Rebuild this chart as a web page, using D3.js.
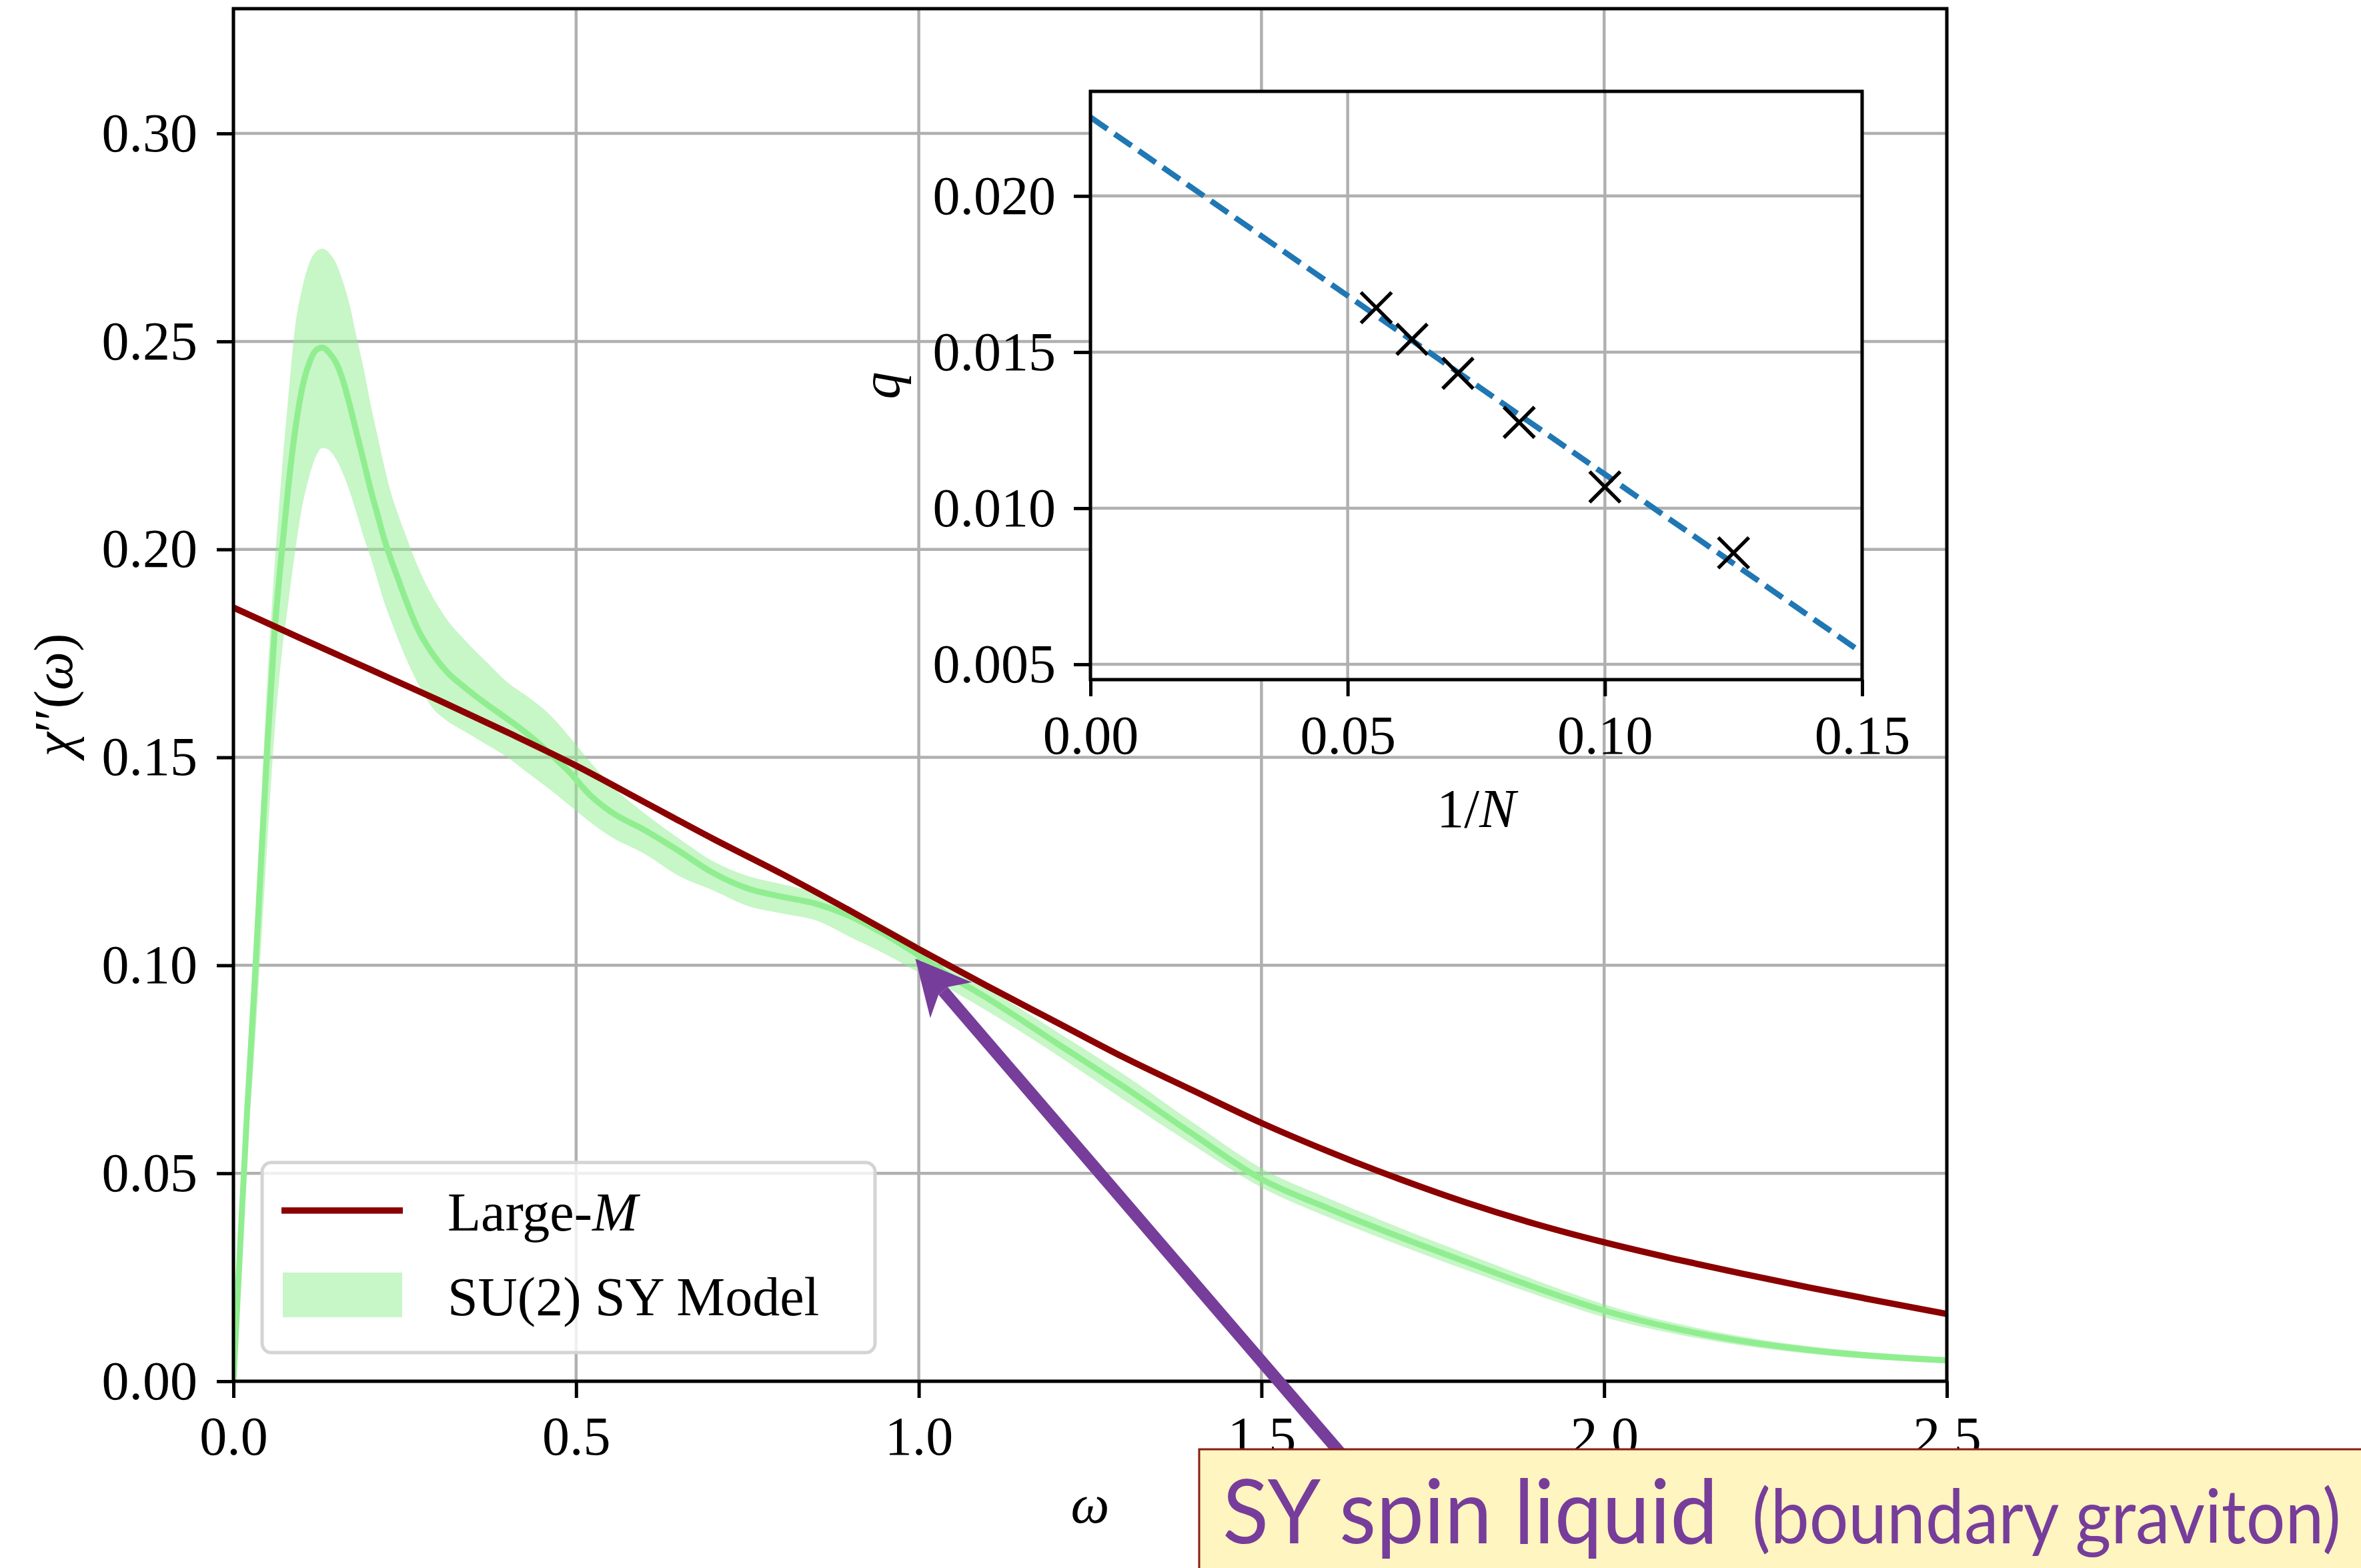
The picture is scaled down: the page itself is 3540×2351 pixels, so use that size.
<!DOCTYPE html>
<html><head><meta charset="utf-8">
<script src="https://cdn.jsdelivr.net/npm/d3@7"></script>
<style>html,body{margin:0;padding:0;background:#fff;} svg{display:block}</style>
</head><body>
<svg id="chart" width="3540" height="2351"></svg>
<script>
// ---------------- data ----------------
const omega = [0,0.01,0.02,0.03,0.04,0.05,0.06,0.07,0.08,0.09,0.10,0.11,0.12,0.13,0.14,0.15,0.16,0.17,0.18,0.19,0.20,0.21,0.22,0.23,0.24,0.25,0.27,0.29,0.31,0.34,0.37,0.40,0.43,0.46,0.49,0.52,0.55,0.60,0.65,0.70,0.75,0.80,0.85,0.90,0.95,1.00,1.05,1.10,1.20,1.30,1.40,1.50,1.60,1.70,1.80,1.90,2.00,2.10,2.20,2.30,2.40,2.50];
const syMid = [0,0.033,0.065,0.093,0.124,0.154,0.180,0.1985,0.2150,0.2285,0.2385,0.2445,0.2478,0.2485,0.2472,0.2448,0.2405,0.2345,0.2278,0.2212,0.2145,0.2085,0.2025,0.1975,0.1930,0.1885,0.1805,0.1750,0.1708,0.1665,0.1627,0.1592,0.1555,0.1512,0.1465,0.1410,0.1370,0.1325,0.1275,0.1222,0.1185,0.1165,0.1148,0.1118,0.1075,0.1024,0.0970,0.0921,0.0814,0.0707,0.0594,0.0486,0.0414,0.0348,0.0286,0.0225,0.0170,0.0128,0.0097,0.0075,0.0060,0.0050];
const syHi = [0,0.038,0.076,0.104,0.138,0.170,0.196,0.2175,0.2365,0.2535,0.2625,0.2685,0.2715,0.2723,0.2712,0.2687,0.2642,0.2585,0.2508,0.2435,0.2350,0.2275,0.2200,0.2135,0.2085,0.2040,0.1955,0.1888,0.1835,0.1778,0.1728,0.1680,0.1645,0.1605,0.1550,0.1490,0.1435,0.1365,0.1305,0.1250,0.1215,0.1195,0.1175,0.1138,0.1095,0.1049,0.0998,0.0946,0.0842,0.0737,0.0622,0.0512,0.0438,0.0370,0.0306,0.0243,0.0185,0.0141,0.0108,0.0084,0.0068,0.0058];
const syLo = [0,0.028,0.055,0.078,0.104,0.131,0.156,0.174,0.187,0.1995,0.2100,0.2172,0.2222,0.2244,0.2238,0.2216,0.2182,0.2138,0.2085,0.2030,0.1982,0.1928,0.1873,0.1828,0.1785,0.1745,0.1675,0.1620,0.1590,0.1560,0.1530,0.1500,0.1462,0.1425,0.1385,0.1345,0.1310,0.1268,0.1215,0.1180,0.1143,0.1125,0.1108,0.1068,0.1028,0.0983,0.0938,0.0890,0.0786,0.0676,0.0568,0.0466,0.0393,0.0328,0.0267,0.0208,0.0154,0.0115,0.0086,0.0066,0.0052,0.0043];
const largeMOmega = [0,0.1,0.2,0.3,0.4,0.5,0.6,0.7,0.8,0.9,1.0,1.1,1.2,1.3,1.4,1.5,1.6,1.7,1.8,1.9,2.0,2.1,2.2,2.3,2.4,2.5];
const largeM = [0.1860,0.1785,0.1711,0.1637,0.1560,0.1480,0.1392,0.1304,0.1220,0.1131,0.1039,0.0950,0.0864,0.0778,0.0699,0.0621,0.0551,0.0487,0.0429,0.0378,0.0334,0.0295,0.0259,0.0225,0.0193,0.0162];
const xTicks = [0,0.5,1.0,1.5,2.0,2.5];
const yTicks = [0,0.05,0.10,0.15,0.20,0.25,0.30];

const insetN = [18,16,14,12,10,8];
const insetQ = [0.01642,0.01541,0.01432,0.01275,0.01068,0.00857];
const fitInvN = [0,0.15];
const fitQ = [0.02252,0.00537];
const insetXTicks = [0,0.05,0.10,0.15];
const insetYTicks = [0.005,0.010,0.015,0.020];

const legendLabels = ["Large-", "SU(2) SY Model"];
const annotationMain = "SY spin liquid";
const annotationSub = "(boundary graviton)";
const arrowTip = {omega:0.995, chi:0.1016};
const arrowTail = {omega:1.80, chi:-0.0527};

// ---------------- drawing ----------------
const W = 3540, H = 2351;
const SERIF = "'Liberation Serif','Times New Roman',serif";
const FS = 82;
const GRID = "#b0b0b0", GW = 4.5, SW = 5;

const svg = d3.select("#chart");
svg.append("rect").attr("width",W).attr("height",H).attr("fill","#fff");

const x = d3.scaleLinear().domain([0,2.5]).range([350,2919]);
const y = d3.scaleLinear().domain([0,0.33]).range([2071,13]);

const main = svg.append("g");
svg.append("defs").append("clipPath").attr("id","clipMain")
  .append("rect").attr("x",x(0)).attr("y",y(0.33)).attr("width",x(2.5)-x(0)).attr("height",y(0)-y(0.33));

// grid
main.append("g").selectAll("line").data(xTicks).join("line")
  .attr("x1",d=>x(d)).attr("x2",d=>x(d)).attr("y1",y(0)).attr("y2",y(0.33))
  .attr("stroke",GRID).attr("stroke-width",GW);
main.append("g").selectAll("line").data(yTicks).join("line")
  .attr("y1",d=>y(d)).attr("y2",d=>y(d)).attr("x1",x(0)).attr("x2",x(2.5))
  .attr("stroke",GRID).attr("stroke-width",GW);

const plot = main.append("g").attr("clip-path","url(#clipMain)");
const idx = d3.range(omega.length);
plot.append("path")
  .attr("d", d3.area().x(i=>x(omega[i])).y0(i=>y(syLo[i])).y1(i=>y(syHi[i])).curve(d3.curveMonotoneX)(idx))
  .attr("fill","#90ee90").attr("fill-opacity",0.5);
plot.append("path")
  .attr("d", d3.line().x(i=>x(omega[i])).y(i=>y(syMid[i])).curve(d3.curveMonotoneX)(idx))
  .attr("fill","none").attr("stroke","#90ee90").attr("stroke-width",9);
plot.append("path")
  .attr("d", d3.line().x(i=>x(largeMOmega[i])).y(i=>y(largeM[i])).curve(d3.curveMonotoneX)(d3.range(largeMOmega.length)))
  .attr("fill","none").attr("stroke","#8b0000").attr("stroke-width",9.5);

// axes
function styleAxis(g){
  g.select(".domain").remove();
  g.attr("font-family",SERIF).attr("font-size",FS);
  g.selectAll(".tick line").attr("stroke","#000").attr("stroke-width",SW);
  g.selectAll(".tick text").attr("fill","#000");
}
main.append("g").attr("transform",`translate(0,${y(0)})`)
  .call(d3.axisBottom(x).tickValues(xTicks).tickFormat(d3.format(".1f")).tickSize(25).tickSizeOuter(0).tickPadding(27))
  .call(styleAxis);
main.append("g").attr("transform",`translate(${x(0)},0)`)
  .call(d3.axisLeft(y).tickValues(yTicks).tickFormat(d3.format(".2f")).tickSize(25).tickSizeOuter(0).tickPadding(29))
  .call(styleAxis);
main.append("rect").attr("x",x(0)).attr("y",y(0.33)).attr("width",x(2.5)-x(0)).attr("height",y(0)-y(0.33))
  .attr("fill","none").attr("stroke","#000").attr("stroke-width",SW);

// axis labels
main.append("text").attr("x",(x(0)+x(2.5))/2).attr("y",2283).attr("text-anchor","middle")
  .attr("font-family",SERIF).attr("font-size",FS).attr("font-style","italic").text("ω");
const yl = main.append("text").attr("transform",`translate(108,${(y(0)+y(0.33))/2}) rotate(-90)`)
  .attr("text-anchor","middle").attr("font-family",SERIF).attr("font-size",FS);
yl.append("tspan").attr("font-style","italic").text("χ");
yl.append("tspan").text("′′(");
yl.append("tspan").attr("font-style","italic").text("ω");
yl.append("tspan").text(")");

// legend
const leg = main.append("g");
leg.append("rect").attr("x",393).attr("y",1743).attr("width",919).attr("height",285).attr("rx",14)
  .attr("fill","#fff").attr("fill-opacity",0.8).attr("stroke","#d4d4d4").attr("stroke-width",5);
leg.append("line").attr("x1",422).attr("x2",604).attr("y1",1815).attr("y2",1815)
  .attr("stroke","#8b0000").attr("stroke-width",9.5);
leg.append("rect").attr("x",424).attr("y",1908).attr("width",179).attr("height",67)
  .attr("fill","#90ee90").attr("fill-opacity",0.5);
const l1 = leg.append("text").attr("x",671).attr("y",1845).attr("font-family",SERIF).attr("font-size",FS);
l1.append("tspan").text(legendLabels[0]);
l1.append("tspan").attr("font-style","italic").text("M");
leg.append("text").attr("x",671).attr("y",1972).attr("font-family",SERIF).attr("font-size",FS).text(legendLabels[1]);

// ---------------- inset ----------------
const ix = d3.scaleLinear().domain([0,0.15]).range([1635,2792]);
const iy = d3.scaleLinear().domain([0.00451,0.02335]).range([1019,137]);
const inset = svg.append("g");
svg.select("defs").append("clipPath").attr("id","clipInset")
  .append("rect").attr("x",ix(0)).attr("y",iy(0.02335)).attr("width",ix(0.15)-ix(0)).attr("height",iy(0.00451)-iy(0.02335));
inset.append("rect").attr("x",ix(0)).attr("y",iy(0.02335)).attr("width",ix(0.15)-ix(0)).attr("height",iy(0.00451)-iy(0.02335)).attr("fill","#fff");
inset.append("g").selectAll("line").data(insetXTicks).join("line")
  .attr("x1",d=>ix(d)).attr("x2",d=>ix(d)).attr("y1",iy(0.00451)).attr("y2",iy(0.02335))
  .attr("stroke",GRID).attr("stroke-width",GW);
inset.append("g").selectAll("line").data(insetYTicks).join("line")
  .attr("y1",d=>iy(d)).attr("y2",d=>iy(d)).attr("x1",ix(0)).attr("x2",ix(0.15))
  .attr("stroke",GRID).attr("stroke-width",GW);
const ip = inset.append("g").attr("clip-path","url(#clipInset)");
ip.append("path").attr("d", d3.line().x(i=>ix(fitInvN[i])).y(i=>iy(fitQ[i]))(d3.range(fitInvN.length)))
  .attr("fill","none").attr("stroke","#1f77b4").attr("stroke-width",8.5).attr("stroke-dasharray","31,13");
inset.append("g").selectAll("path").data(insetN).join("path")
  .attr("transform",(d,i)=>`translate(${ix(1/d)},${iy(insetQ[i])})`)
  .attr("d","M-23,-23L23,23M-23,23L23,-23")
  .attr("fill","none").attr("stroke","#000").attr("stroke-width",5.5);
inset.append("g").attr("transform",`translate(0,${iy(0.00451)})`)
  .call(d3.axisBottom(ix).tickValues(insetXTicks).tickFormat(d3.format(".2f")).tickSize(25).tickSizeOuter(0).tickPadding(28))
  .call(styleAxis);
inset.append("g").attr("transform",`translate(${ix(0)},0)`)
  .call(d3.axisLeft(iy).tickValues(insetYTicks).tickFormat(d3.format(".3f")).tickSize(25).tickSizeOuter(0).tickPadding(27))
  .call(styleAxis);
inset.append("rect").attr("x",ix(0)).attr("y",iy(0.02335)).attr("width",ix(0.15)-ix(0)).attr("height",iy(0.00451)-iy(0.02335))
  .attr("fill","none").attr("stroke","#000").attr("stroke-width",SW);
const il = inset.append("text").attr("x",(ix(0)+ix(0.15))/2).attr("y",1240).attr("text-anchor","middle")
  .attr("font-family",SERIF).attr("font-size",FS);
il.append("tspan").text("1/");
il.append("tspan").attr("font-style","italic").text("N");
inset.append("text").attr("transform",`translate(1348,${(iy(0.00451)+iy(0.02335))/2}) rotate(-90)`)
  .attr("text-anchor","middle").attr("font-family",SERIF).attr("font-size",FS).attr("font-style","italic").text("q");

// ---------------- arrow annotation ----------------
const PURPLE = "#773d9a";
const tx = x(arrowTip.omega), ty = y(arrowTip.chi);
const sx = x(arrowTail.omega), sy = y(arrowTail.chi);
const ang = Math.atan2(ty-sy, tx-sx) * 180/Math.PI;
const arr = svg.append("g");
const len = Math.hypot(tx-sx, ty-sy);
arr.append("g").attr("transform",`translate(${tx},${ty}) rotate(${ang})`).call(g=>{
  g.append("line").attr("x1",-len).attr("x2",-64).attr("y1",0).attr("y2",0)
    .attr("stroke",PURPLE).attr("stroke-width",18);
  g.append("path").attr("d","M0,0L-82,41L-64,9.5L-64,-9.5L-82,-41Z").attr("fill",PURPLE);
});

// ---------------- text box ----------------
const box = svg.append("g");
box.append("rect").attr("x",1798).attr("y",2173).attr("width",1800).attr("height",260)
  .attr("fill","#fff5c0").attr("stroke","#8b1a10").attr("stroke-width",3);
box.append("text").attr("x",1833).attr("y",2314).attr("font-family","Lato,'Open Sans',sans-serif")
  .attr("font-size",134).attr("fill",PURPLE).attr("textLength",743).attr("lengthAdjust","spacingAndGlyphs")
  .text(annotationMain);
box.append("text").attr("x",2627).attr("y",2314).attr("font-family","Lato,'Open Sans',sans-serif")
  .attr("font-size",112).attr("fill",PURPLE).attr("textLength",883).attr("lengthAdjust","spacingAndGlyphs")
  .text(annotationSub);
</script>
</body></html>
